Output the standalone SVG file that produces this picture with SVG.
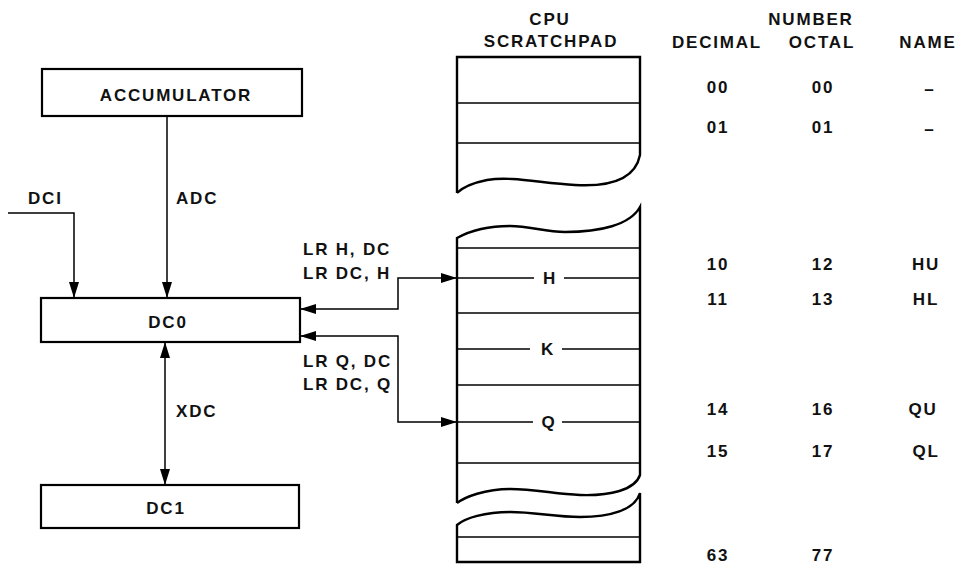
<svg xmlns="http://www.w3.org/2000/svg" width="957" height="564" viewBox="0 0 957 564">
<defs>
<marker id="ah" viewBox="0 0 16 10" refX="16" refY="5" markerWidth="16" markerHeight="10" markerUnits="userSpaceOnUse" orient="auto-start-reverse">
<path d="M0,0 L16,5 L0,10 Z" fill="#000"/>
</marker>
</defs>
<style>
text{font-family:"Liberation Sans",Arial,sans-serif;font-weight:bold;font-size:17px;fill:#111;letter-spacing:1.8px}
.c{text-anchor:middle}
.box{fill:#fff;stroke:#000;stroke-width:2.2}
.pad{fill:none;stroke:#000;stroke-width:2.4}
.row{stroke:#000;stroke-width:1.6;fill:none}
.con{stroke:#000;stroke-width:1.5;fill:none}
</style>
<rect width="957" height="564" fill="#fff"/>

<g id="accumulator">
<rect class="box" x="42" y="69" width="260" height="47"/>
<text class="c" x="176" y="101">ACCUMULATOR</text>
</g>
<g id="dc0">
<rect class="box" x="41" y="298" width="259" height="44"/>
<text class="c" x="168" y="328">DC0</text>
</g>
<g id="dc1">
<rect class="box" x="41" y="485" width="258" height="43"/>
<text class="c" x="166" y="514">DC1</text>
</g>

<g id="scratchpad">
<text class="c" x="550" y="25">CPU</text>
<text class="c" x="551" y="47">SCRATCHPAD</text>
<path class="pad" d="M457,193 L457,57 L640,57 L640,155 C635,180 610,187 575,185 C540,183 512,176 487,180 C472,183 462,188 457,193"/>
<line class="row" x1="457" y1="103" x2="640" y2="103"/>
<line class="row" x1="457" y1="143" x2="640" y2="143"/>
<path class="pad" d="M457,503 L457,238 C475,228 495,226 510,226 C530,226 545,232 565,232 C600,232 630,225 640,207 L640,475 C635,490 610,496 580,495 C555,494 535,489 510,489 C485,489 465,497 457,503"/>
<line class="row" x1="457" y1="248" x2="640" y2="248"/>
<line class="row" x1="457" y1="278" x2="534" y2="278"/>
<line class="row" x1="564" y1="278" x2="640" y2="278"/>
<text class="c" x="550" y="284">H</text>
<line class="row" x1="457" y1="313" x2="640" y2="313"/>
<line class="row" x1="457" y1="349" x2="530" y2="349"/>
<line class="row" x1="562" y1="349" x2="640" y2="349"/>
<text class="c" x="548" y="355">K</text>
<line class="row" x1="457" y1="385" x2="640" y2="385"/>
<line class="row" x1="457" y1="422" x2="533" y2="422"/>
<line class="row" x1="562" y1="422" x2="640" y2="422"/>
<text class="c" x="549" y="428">Q</text>
<line class="row" x1="457" y1="463" x2="640" y2="463"/>
<path class="pad" d="M457,525 C465,518 485,512 510,512 C535,512 555,517 580,517 C610,517 635,510 640,493 L640,562 L457,562 Z"/>
<line class="row" x1="457" y1="537" x2="640" y2="537"/>
</g>

<g id="table">
<text class="c" x="811" y="25">NUMBER</text>
<text class="c" x="717" y="48">DECIMAL</text>
<text class="c" x="822" y="48">OCTAL</text>
<text class="c" x="928" y="48">NAME</text>
<text class="c" x="718" y="93">00</text><text class="c" x="823" y="93">00</text><text class="c" x="930" y="95">–</text>
<text class="c" x="718" y="133">01</text><text class="c" x="823" y="133">01</text><text class="c" x="930" y="135">–</text>
<text class="c" x="718" y="270">10</text><text class="c" x="823" y="270">12</text><text class="c" x="926" y="270">HU</text>
<text class="c" x="718" y="305">11</text><text class="c" x="823" y="305">13</text><text class="c" x="926" y="305">HL</text>
<text class="c" x="718" y="415">14</text><text class="c" x="823" y="415">16</text><text class="c" x="923" y="415">QU</text>
<text class="c" x="718" y="457">15</text><text class="c" x="823" y="457">17</text><text class="c" x="926" y="457">QL</text>
<text class="c" x="718" y="561">63</text><text class="c" x="823" y="561">77</text>
</g>

<g id="connectors">
<line class="con" x1="167" y1="116" x2="167" y2="298" marker-end="url(#ah)"/>
<text x="176" y="204">ADC</text>
<polyline class="con" points="8,213 74,213 74,298" marker-end="url(#ah)"/>
<text x="28" y="204">DCI</text>
<line class="con" x1="165" y1="342" x2="165" y2="485" marker-start="url(#ah)" marker-end="url(#ah)"/>
<text x="176" y="417">XDC</text>
<polyline class="con" points="457,278 398,278 398,309 300,309" marker-start="url(#ah)" marker-end="url(#ah)"/>
<polyline class="con" points="457,422 398,422 398,336 300,336" marker-start="url(#ah)" marker-end="url(#ah)"/>
<text x="303" y="255">LR H, DC</text>
<text x="303" y="279">LR DC, H</text>
<text x="303" y="367">LR Q, DC</text>
<text x="303" y="390">LR DC, Q</text>
</g>
</svg>
